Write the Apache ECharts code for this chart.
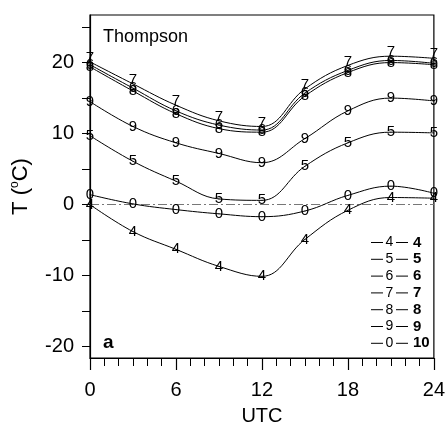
<!DOCTYPE html>
<html><head><meta charset="utf-8">
<script src="https://cdn.jsdelivr.net/npm/echarts@6/dist/echarts.min.js"></script>
<style>html,body{margin:0;padding:0;background:#fff}#c{width:448px;height:435px}</style>
</head><body><div id="c"></div>
<script>
const hours = [0, 3, 6, 9, 12, 15, 18, 21, 24];
const seriesNames = ['4', '5', '6', '7', '8', '9', '10'];
const markers = ['4', '5', '6', '7', '8', '9', '0'];
const s4 = [0.0, -3.8, -6.3, -8.7, -10.1, -4.9, -0.8, 1.0, 0.9];
const s5 = [9.7, 6.1, 3.3, 0.8, 0.6, 5.4, 8.7, 10.2, 10.1];
const s6 = [19.7, 16.4, 13.2, 11.2, 10.5, 15.7, 18.9, 20.3, 19.9];
const s7 = [20.1, 17.0, 14.0, 11.8, 11.0, 16.3, 19.6, 20.9, 20.6];
const s8 = [19.4, 16.0, 12.8, 10.7, 10.2, 15.3, 18.6, 20.0, 19.7];
const s9 = [14.5, 11.0, 8.7, 7.2, 5.9, 9.3, 13.2, 15.0, 14.6];
const s10 = [1.4, 0.1, -0.7, -1.3, -1.7, -0.9, 1.3, 2.6, 1.6];
const values = [s4, s5, s6, s7, s8, s9, s10];
const xTicks = [0, 6, 12, 18, 24];
const yTicks = [-20, -15, -10, -5, 0, 5, 10, 15, 20, 25];
const yLabels = [-20, -10, 0, 10, 20];

const FF = '"Liberation Sans", Arial, sans-serif';
const chart = echarts.init(document.getElementById('c'), null, {renderer: 'canvas'});

const series = seriesNames.map((name, i) => ({
  name: name,
  type: 'line',
  smooth: 0.4,
  symbol: 'circle',
  symbolSize: 1,
  showSymbol: true,
  itemStyle: {color: '#000'},
  lineStyle: {color: '#000', width: 1},
  label: {
    show: true, position: 'inside', formatter: markers[i],
    color: '#000', fontSize: 15, fontFamily: FF,
    offset: name === '7' ? [0, -4] : [0, 0]
  },
  emphasis: {disabled: true},
  data: hours.map((h, k) => [h, values[i][k]]),
  z: 3
}));
series[0].markLine = {
  silent: true, symbol: 'none', label: {show: false},
  lineStyle: {color: '#777', width: 1, type: [9, 3, 2, 3]},
  data: [{yAxis: 0}], z: 1
};

const legendRich = {
  l: {width: 12, height: 1, backgroundColor: '#000'},
  d: {fontSize: 14, width: 13, align: 'center', fontFamily: FF, color: '#000'},
  n: {fontSize: 15, fontWeight: 'bold', fontFamily: FF, color: '#000', padding: [0, 0, 0, 5]}
};

chart.setOption({
  animation: false,
  backgroundColor: '#fff',
  title: [
    {text: 'Thompson', left: 98, top: 23, textStyle: {fontSize: 18, fontWeight: 'normal', fontFamily: FF, color: '#000'}},
    {text: 'a', left: 98, top: 328, textStyle: {fontSize: 19, fontWeight: 'bold', fontFamily: FF, color: '#000'}}
  ],
  grid: {left: 90, right: 13, top: 15, bottom: 77, show: true, borderColor: '#000', borderWidth: 1.2, backgroundColor: 'transparent'},
  legend: {
    orient: 'vertical', left: 361, top: 230,
    icon: 'none', itemWidth: 0, itemHeight: 14, itemGap: 1.8,
    selectedMode: false,
    data: seriesNames,
    formatter: name => '{l| }{d|' + markers[seriesNames.indexOf(name)] + '}{l| }{n|' + name + '}',
    textStyle: {rich: legendRich, lineHeight: 14}
  },
  xAxis: {
    type: 'value', min: 0, max: 24, interval: 6,
    name: 'UTC', nameLocation: 'middle', nameGap: 48,
    nameTextStyle: {fontSize: 20, fontFamily: FF, color: '#000'},
    axisLine: {show: true, onZero: false, lineStyle: {color: '#000', width: 1.2}},
    axisTick: {show: true, inside: false, length: 12, lineStyle: {color: '#000', width: 1.2}},
    minorTick: {show: true, splitNumber: 6, length: 8, lineStyle: {color: '#000', width: 1}},
    axisLabel: {fontSize: 20, fontFamily: FF, color: '#000', margin: 22,
      formatter: v => xTicks.indexOf(v) >= 0 ? String(v) : ''},
    splitLine: {show: false}
  },
  yAxis: {
    type: 'value', min: -21.6, max: 26.7,
    name: 'T ({s|o}C)', nameLocation: 'middle', nameGap: 57, nameRotate: 90,
    nameTextStyle: {fontSize: 22, fontFamily: FF, color: '#000',
      rich: {s: {fontSize: 12, fontFamily: FF, color: '#000', verticalAlign: 'top', lineHeight: 24}}},
    axisLine: {show: true, onZero: false, lineStyle: {color: '#000', width: 1.2}},
    axisTick: {show: true, inside: false, length: 8, customValues: yTicks, lineStyle: {color: '#000', width: 1}},
    axisLabel: {fontSize: 20, fontFamily: FF, color: '#000', margin: 16, customValues: yLabels,
      formatter: v => String(v)},
    splitLine: {show: false}
  },
  series: series
});
</script></body></html>
